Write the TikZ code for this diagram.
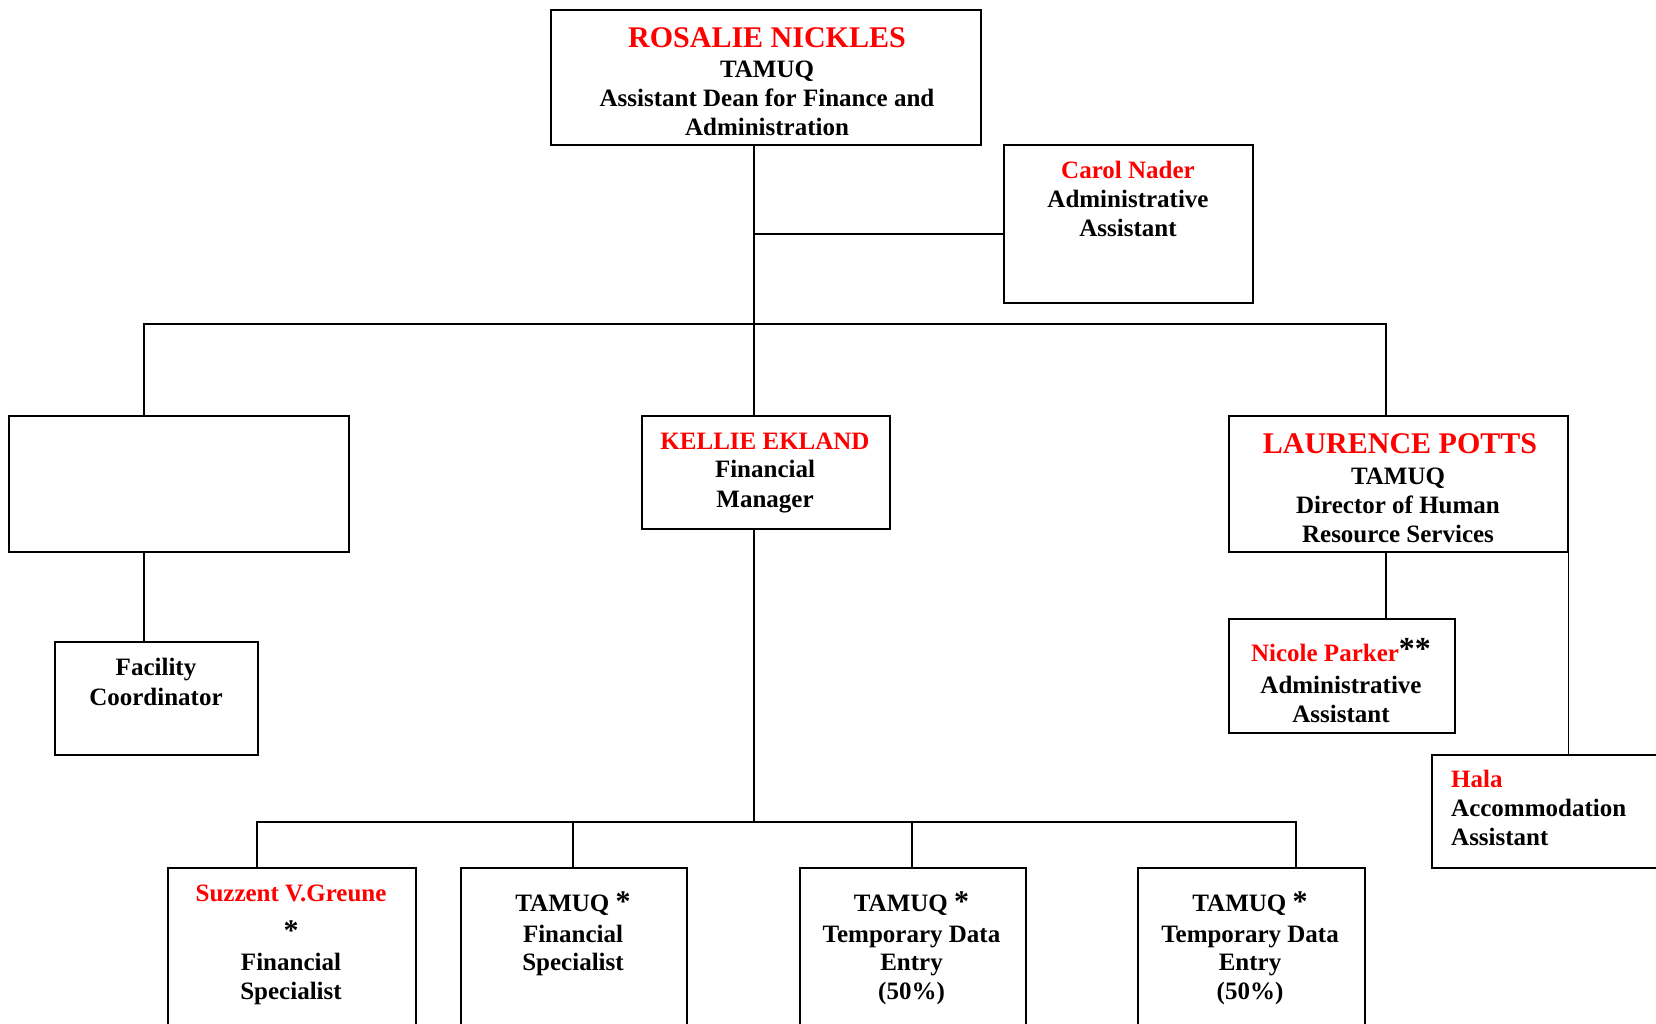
\documentclass[tikz,border=0pt]{standalone}
\usepackage{fontspec}
\setmainfont{Liberation Serif}
\usetikzlibrary{calc}
\definecolor{namered}{RGB}{255,0,0}
\newcommand\myast{{\fontsize{30}{30}\selectfont *}}
\begin{document}
\begin{tikzpicture}[x=1pt,y=-1pt,
  box/.style={draw, line width=1.7pt, inner sep=0pt, anchor=north west},
  conn/.style={line width=1.4pt},
  txt/.style={inner sep=0pt, anchor=base, font=\bfseries\fontsize{25}{29}\selectfont},
  nm/.style={txt, text=namered},
  bignm/.style={nm, font=\bfseries\fontsize{30}{34}\selectfont}]
\useasboundingbox (0,0) rectangle (1656,1024);

% boxes
\node[box, minimum width=430, minimum height=135] (R) at (550,9) {};
\node[box, minimum width=249, minimum height=158] (C) at (1003,144) {};
\node[box, minimum width=340, minimum height=136] (E) at (8,415) {};
\node[box, minimum width=248, minimum height=113] (K) at (641,415) {};
\node[box, minimum width=339, minimum height=136] (L) at (1228,415) {};
\node[box, minimum width=203, minimum height=113] (F) at (54,641) {};
\node[box, minimum width=226, minimum height=114] (N) at (1228,618) {};
\node[box, minimum width=260, minimum height=113] (H) at (1431,754) {};
\node[box, minimum width=248, minimum height=180] (S1) at (167,867) {};
\node[box, minimum width=226, minimum height=180] (S2) at (460,867) {};
\node[box, minimum width=226, minimum height=180] (S3) at (799,867) {};
\node[box, minimum width=227, minimum height=180] (S4) at (1137,867) {};

% connector points
\coordinate (trunk) at (754,324);
\coordinate (cj) at (754,234);
\coordinate (bl) at (144,324);
\coordinate (br) at (1386,324);
\coordinate (kb) at (754,822);
\coordinate (b1) at (257,822);
\coordinate (b2) at (573,822);
\coordinate (b3) at (912,822);
\coordinate (b4) at (1296,822);

% connectors
\draw[conn] (R.south -| trunk) -- (K.north -| trunk);
\draw[conn] (cj) -- (C.west |- cj);
\draw[conn] (E.north -| bl) -- (bl) -- (br) -- (L.north -| br);
\draw[conn] (E.south -| bl) -- (F.north -| bl);
\draw[conn] (L.south -| br) -- (N.north -| br);
\draw[conn] (L.south east) -- (H.north -| L.east);
\draw[conn] (K.south -| kb) -- (kb);
\draw[conn] (S1.north -| b1) -- (b1) -- (b4) -- (S4.north -| b4);
\draw[conn] (b2) -- (S2.north -| b2);
\draw[conn] (b3) -- (S3.north -| b3);

% texts
\node[bignm] (r1) at (767,47.5) {ROSALIE NICKLES};
\node[txt] (r2) at (767,77.5) {TAMUQ};
\node[txt] (r3) at (767,106.5) {Assistant Dean for Finance and};
\node[txt] (r4) at (767,135.5) {Administration};

\node[nm] (c1) at (1128,179) {Carol Nader};
\node[txt] (c2) at (1128,207.5) {Administrative};
\node[txt] (c3) at (1128,237) {Assistant};

\node[nm] (k1) at (765,449) {KELLIE EKLAND};
\node[txt] (k2) at (765,477.5) {Financial};
\node[txt] (k3) at (765,507) {Manager};

\node[bignm] (l1) at (1400,453.5) {LAURENCE POTTS};
\node[txt] (l2) at (1398,484) {TAMUQ};
\node[txt] (l3) at (1398,513.5) {Director of Human};
\node[txt] (l4) at (1398,542.5) {Resource Services};

\node[txt] (f1) at (156,675) {Facility};
\node[txt] (f2) at (156,705) {Coordinator};

\node[txt] (n1) at (1341,661.5) {\textcolor{namered}{Nicole Parker}\raisebox{2pt}{\fontsize{32}{32}\selectfont **}};
\node[txt] (n2) at (1341,693) {Administrative};
\node[txt] (n3) at (1341,722) {Assistant};

\node[nm, anchor=base west] (h1) at (1451,787.5) {Hala};
\node[txt, anchor=base west] (h2) at (1451,816.5) {Accommodation};
\node[txt, anchor=base west] (h3) at (1451,845) {Assistant};

\node[nm] (s11) at (291,901) {Suzzent V.Greune};
\node[txt] (s12) at (291,940) {\myast};
\node[txt] (s13) at (291,970.5) {Financial};
\node[txt] (s14) at (291,999.5) {Specialist};

\node[txt] (s21) at (573,911) {TAMUQ \myast};
\node[txt] (s22) at (573,942) {Financial};
\node[txt] (s23) at (573,970.5) {Specialist};

\node[txt] (s31) at (911.5,911) {TAMUQ \myast};
\node[txt] (s32) at (911.5,942) {Temporary Data};
\node[txt] (s33) at (911.5,970.5) {Entry};
\node[txt] (s34) at (911.5,999.5) {(50\%)};

\node[txt] (s41) at (1250,911) {TAMUQ \myast};
\node[txt] (s42) at (1250,942) {Temporary Data};
\node[txt] (s43) at (1250,970.5) {Entry};
\node[txt] (s44) at (1250,999.5) {(50\%)};
\end{tikzpicture}
\end{document}
